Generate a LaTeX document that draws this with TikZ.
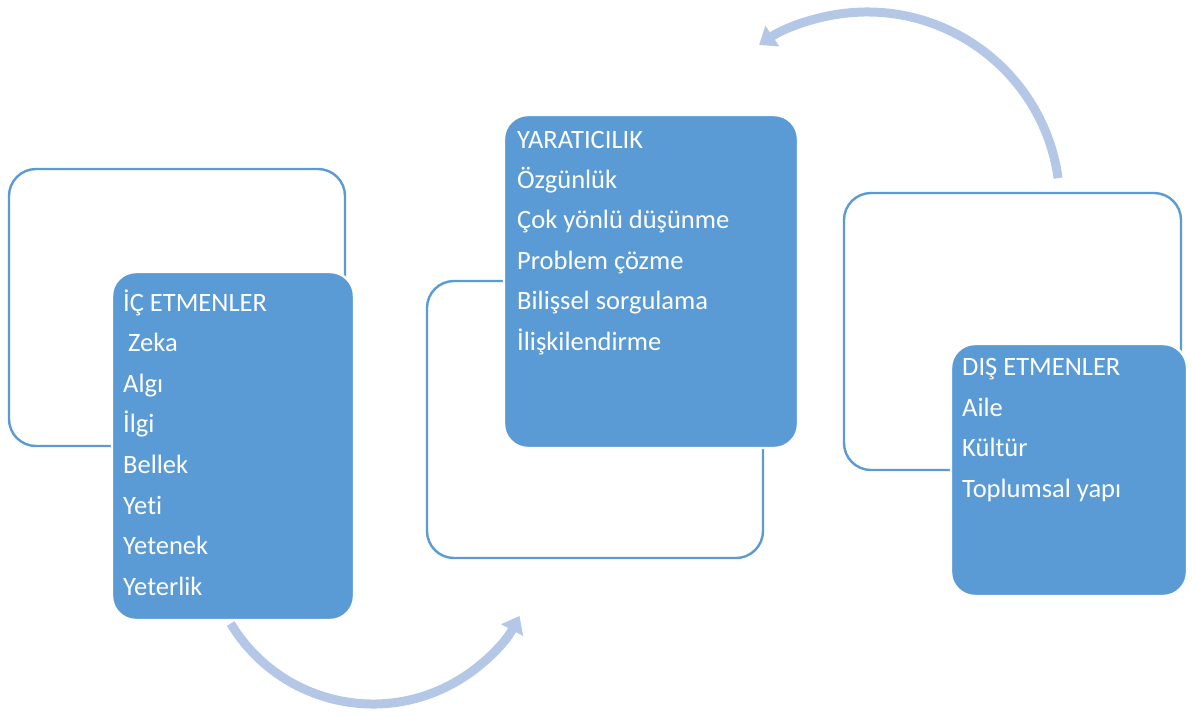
\documentclass[tikz,border=0pt]{standalone}
\usepackage{fontspec}
\setmainfont{Carlito}[Ligatures={NoCommon}]
\usetikzlibrary{arrows.meta,calc}

\definecolor{boxblue}{HTML}{5B9BD5}
\definecolor{arrowblue}{HTML}{B4C7E7}

\tikzset{
  outlinebox/.style={draw=boxblue, line width=2.4pt, fill=white, rounded corners=27pt},
  filledbox/.style={draw=white, line width=2.4pt, fill=boxblue, rounded corners=24pt},
  itemtext/.style={anchor=base west, inner sep=0pt, text=white,
                   font=\fontsize{26.5}{32}\selectfont},
  arcarrow/.style={draw=arrowblue, line width=9pt,
                   -{Triangle[length=16pt,width=24pt]}},
}

\begin{document}
\begin{tikzpicture}[x=1pt,y=-1pt]
\useasboundingbox (0,0) rectangle (1192,716);

% curved arrows between the groups
\coordinate (lowCentre) at (373,538);
\coordinate (highCentre) at (867,205);
\coordinate (lowStart) at ($(lowCentre)+(149:166)$);
\coordinate (highStart) at ($(highCentre)+(-8:193)$);
\draw[arcarrow] (lowStart) arc[start angle=149, end angle=28, radius=166];
\draw[arcarrow] (highStart) arc[start angle=-8, end angle=-124, radius=193];

% left group: internal factors
\path[outlinebox] (9,169) rectangle (345,446);
\path[filledbox] (112,272) rectangle (354,620);
\node[itemtext] (ic0) at (123,311) {İÇ ETMENLER};
\node[itemtext] (ic1) at (128,351.6) {Zeka};
\node[itemtext] (ic2) at (123,392.2) {Algı};
\node[itemtext] (ic3) at (123,432.8) {İlgi};
\node[itemtext] (ic4) at (123,473.4) {Bellek};
\node[itemtext] (ic5) at (123,514) {Yeti};
\node[itemtext] (ic6) at (123,554.6) {Yetenek};
\node[itemtext] (ic7) at (123,595.2) {Yeterlik};

% middle group: creativity
\path[outlinebox] (427,281) rectangle (763,558);
\path[filledbox] (504,115) rectangle (798,448);
\node[itemtext] (ya0) at (517,148) {YARATICILIK};
\node[itemtext] (ya1) at (517,188.4) {Özgünlük};
\node[itemtext] (ya2) at (517,228.8) {Çok yönlü düşünme};
\node[itemtext] (ya3) at (517,269.2) {Problem çözme};
\node[itemtext] (ya4) at (517,309.6) {Bilişsel sorgulama};
\node[itemtext] (ya5) at (517,350) {İlişkilendirme};

% right group: external factors
\path[outlinebox] (844,193) rectangle (1181,470);
\path[filledbox] (951,344) rectangle (1187,596);
\node[itemtext] (di0) at (962,375.5) {DIŞ ETMENLER};
\node[itemtext] (di1) at (962,416.2) {Aile};
\node[itemtext] (di2) at (962,456.9) {Kültür};
\node[itemtext] (di3) at (962,497.6) {Toplumsal yapı};
\end{tikzpicture}
\end{document}
